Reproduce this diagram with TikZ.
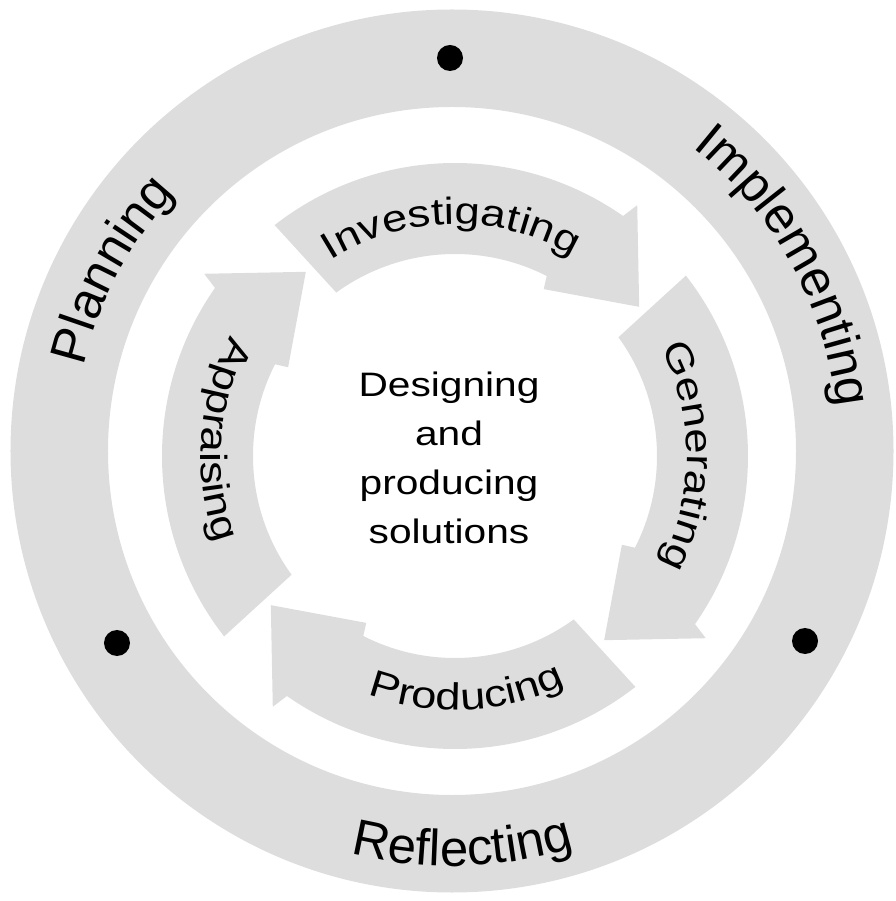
\documentclass[tikz,border=0pt]{standalone}
\usepackage{fontspec}
\setmainfont{Liberation Sans}
\newfontfamily\widefont[FakeStretch=1.2]{Liberation Sans}
\usepackage{tikz}
\usetikzlibrary{decorations.text}

\definecolor{ringgray}{RGB}{221,221,221}
\newcommand{\outerfont}{\fontsize{29}{34}\selectfont}
\newcommand{\arrowfont}{\widefont\fontsize{21.5}{25}\selectfont}
\newcommand{\centrefont}{\widefont\fontsize{19.3}{27.9}\selectfont}

\begin{document}
\begin{tikzpicture}[
    dot/.style={circle, fill=black, inner sep=0pt, minimum size=0.52cm},
    ringtext/.style={decorate, decoration={text along path, text align=center, text={#1}}}
]
    \useasboundingbox (-9.04,-9.0) rectangle (8.86,9.02);

    % Outer ring with the three dots
    \fill[ringgray, even odd rule] (0,0) circle[radius=8.83] (0,0) circle[radius=6.88];
    \node[dot] (dottop) at (-0.04,7.86) {};
    \node[dot] (dotleft) at (-6.7,-3.84) {};
    \node[dot] (dotright) at (7.06,-3.8) {};

    % Labels on the outer ring
    \path[ringtext={|\outerfont|Planning}] (182:7.56) arc[start angle=182, end angle=122, radius=7.56];
    \path[ringtext={|\outerfont|Implementing}] (59:7.75) arc[start angle=59, end angle=-1, radius=7.75];
    \path[ringtext={|\outerfont|Reflecting}] (241.5:8.3) arc[start angle=241.5, end angle=301.5, radius=8.3];

    % Text in the middle
    \node[align=center, font=\centrefont, inner sep=0pt] (centre) at (-0.06,-0.13) {Designing\\and\\producing\\solutions};

    % Four curved arrows going round clockwise
    \begin{scope}[shift={(0.06,-0.1)}]
        \foreach \a in {0,-90,-180,-270}
            \fill[ringgray, rotate=\a] (218:5.86) arc[start angle=218, end angle=145, radius=5.86]
                -- (144:6.2) -- (129:4.74) -- (152:3.78) -- (153:4.04)
                arc[start angle=153, end angle=216, radius=4.04] -- cycle;
        \path[ringtext={|\arrowfont|Investigating}] (131:4.64) arc[start angle=131, end angle=51, radius=4.64];
        \path[ringtext={|\arrowfont|Generating}] (40:4.64) arc[start angle=40, end angle=-40, radius=4.64];
        \path[ringtext={|\arrowfont|Producing}] (232.8:5.08) arc[start angle=232.8, end angle=312.8, radius=5.08];
        \path[ringtext={|\arrowfont|Appraising}] (136:5.08) arc[start angle=136, end angle=216, radius=5.08];
    \end{scope}

\end{tikzpicture}
\end{document}
